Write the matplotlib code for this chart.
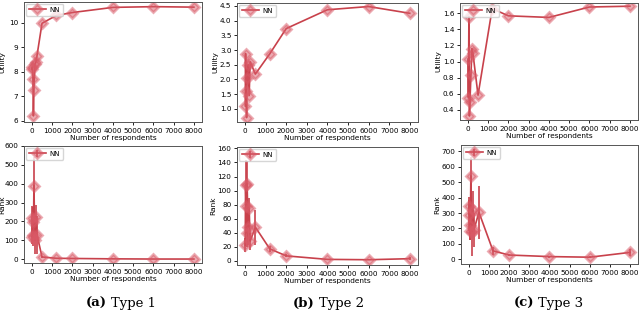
import matplotlib
matplotlib.use("Agg")
import matplotlib.pyplot as plt
import numpy as np

# numero de encuestados
x = [10, 25, 50, 75, 100, 150, 200, 250, 500, 1200, 2000, 4000, 6000, 8000]

# utilidad (fila de arriba)
util_t1 = [8.1, 8.2, 7.7, 6.2, 7.25, 8.3, 8.4, 8.65, 9.98, 10.3, 10.42, 10.63, 10.66, 10.64]
util_t2 = [1.1, 2.88, 1.6, 0.7, 2.05, 2.5, 1.45, 2.6, 2.18, 2.87, 3.73, 4.37, 4.48, 4.25]
util_t3 = [1.03, 0.55, 1.56, 0.32, 0.5, 0.83, 1.16, 1.1, 0.58, 1.66, 1.57, 1.55, 1.68, 1.69]

# rango (fila de abajo) y su error
rank_t1 = [120, 220, 195, 130, 390, 100, 225, 130, 12, 5, 4, 2, 1, 1]
rank_t1_err = [40, 60, 80, 60, 150, 70, 60, 100, 5, 3, 2, 1, 1, 1]
rank_t2 = [22, 108, 78, 40, 110, 48, 75, 28, 48, 17, 7, 2, 1.5, 3]
rank_t2_err = [10, 35, 25, 20, 32, 25, 15, 12, 25, 4, 2, 1, 1, 2]
rank_t3 = [345, 285, 185, 225, 540, 180, 320, 190, 305, 55, 28, 18, 14, 45]
rank_t3_err = [60, 100, 60, 100, 120, 160, 120, 110, 170, 25, 8, 6, 5, 20]

captions = [("(a)", "Type 1"), ("(b)", "Type 2"), ("(c)", "Type 3")]
xticks = [0, 1000, 2000, 3000, 4000, 5000, 6000, 7000, 8000]

color = "#c8414b"

fig = plt.figure(figsize=(6.4, 3.12), dpi=100)
W, H = 640.0, 312.0

def ax_px(l, t, r, b):
    return fig.add_axes([l / W, 1 - b / H, (r - l) / W, (b - t) / H])

# posiciones de los ejes en pixeles (izq, arriba, der, abajo)
top_pos = [(24, 2, 202, 122), (237, 3, 418, 122), (460, 3, 638, 120)]
bot_pos = [(24, 146, 202, 263), (237, 147, 418, 265), (461, 145, 638, 264)]

utils = [util_t1, util_t2, util_t3]
ranks = [rank_t1, rank_t2, rank_t3]
rank_errs = [rank_t1_err, rank_t2_err, rank_t3_err]
ylims_top = [(5.95, 10.85), (0.55, 4.6), (0.27, 1.73)]
ylims_bot = [(-20, 600), (-6, 162), (-30, 740)]
yticks_top = [[6, 7, 8, 9, 10], [1.0, 1.5, 2.0, 2.5, 3.0, 3.5, 4.0, 4.5],
              [0.4, 0.6, 0.8, 1.0, 1.2, 1.4, 1.6]]
yticks_bot = [range(0, 601, 100), range(0, 161, 20), range(0, 701, 100)]

def draw(ax, y, err, ylabel, ylim, yt):
    ax.errorbar(x, y, yerr=err, color=color, lw=1.2, elinewidth=1.2,
                marker="D", markersize=5.5,
                mfc=(0.85, 0.35, 0.4, 0.5), mec=(0.85, 0.35, 0.4, 0.5), mew=2,
                label="NN")
    ax.set_xlim(-390, 8400)
    ax.set_ylim(*ylim)
    ax.set_xticks(xticks)
    ax.set_yticks(list(yt))
    ax.tick_params(labelsize=5.2, length=2.5, width=0.6, pad=1.5)
    ax.set_xlabel("Number of respondents", fontsize=5.3, labelpad=1)
    ax.set_ylabel(ylabel, fontsize=5.3, labelpad=1)
    for s in ax.spines.values():
        s.set_color("#555555")
        s.set_linewidth(0.7)
    ax.legend(loc="upper left", fontsize=5, handlelength=2.4,
              borderpad=0.4, handletextpad=0.6, borderaxespad=0.3)

for i in range(3):
    a = ax_px(*top_pos[i])
    draw(a, utils[i], None, "Utility", ylims_top[i], yticks_top[i])
    b = ax_px(*bot_pos[i])
    draw(b, ranks[i], rank_errs[i], "Rank", ylims_bot[i], yticks_bot[i])
    if i == 0:
        # etiqueta Y pegada al borde izquierdo
        w = top_pos[0][2] - top_pos[0][0]
        a.yaxis.set_label_coords((5 - top_pos[0][0]) / w, 0.5)
        b.yaxis.set_label_coords((5 - bot_pos[0][0]) / w, 0.5)

# leyendas de las columnas
cx = [110, 318, 537]
for i in range(3):
    fig.text((cx[i] - 3) / W, 1 - 303 / H, captions[i][0], ha="right", va="center",
             fontsize=9.5, fontweight="bold", family="DejaVu Serif")
    fig.text((cx[i] + 1) / W, 1 - 303 / H, captions[i][1], ha="left", va="center",
             fontsize=9.5, family="DejaVu Serif")

fig.savefig("out.png", dpi=100)
